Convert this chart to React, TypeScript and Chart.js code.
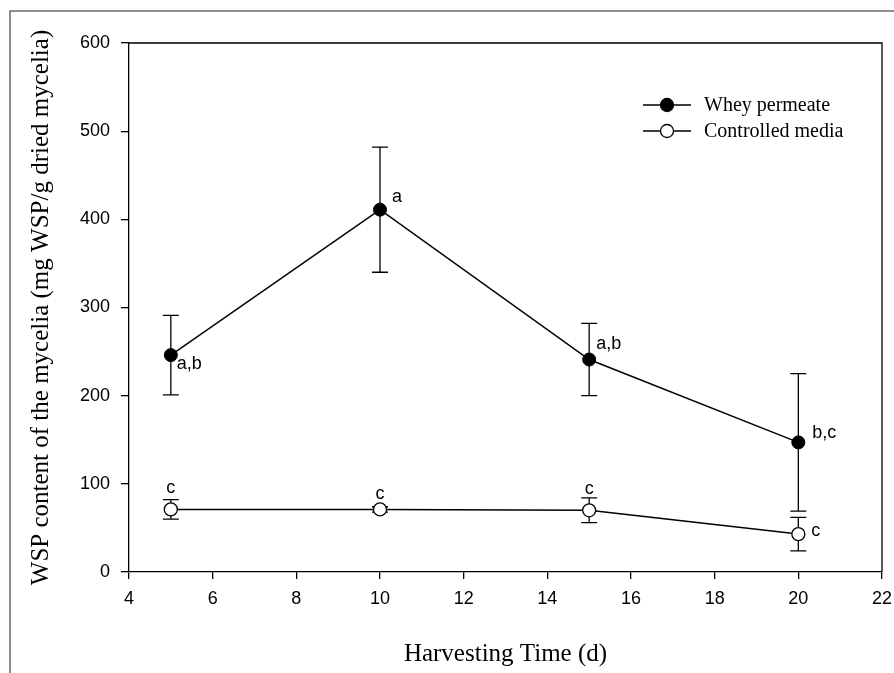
import React, { useEffect, useRef } from 'react';
import { Chart, registerables } from 'chart.js';

Chart.register(...registerables);

// ---- data ----
const days = [5, 10, 15, 20];
const wheyMean = [246, 411, 241, 147];
const wheyErr = [45, 71, 41, 78];
const controlMean = [71, 71, 70, 43];
const controlErr = [11, 3, 14, 19];
const wheyLetters = ['a,b', 'a', 'a,b', 'b,c'];
const controlLetters = ['c', 'c', 'c', 'c'];
const seriesNames = ['Whey permeate', 'Controlled media'];
const xTitle = 'Harvesting Time (d)';
const yTitle = 'WSP content of the mycelia (mg WSP/g dried mycelia)';
const xRange = { min: 4, max: 22, step: 2 };
const yRange = { min: 0, max: 600, step: 100 };

// ---- placement of the significance letters (pixel offsets from marker) ----
const wheyLetterPos: [number, number, CanvasTextAlign][] = [
  [6, 14, 'left'],
  [12, -8, 'left'],
  [7, -11, 'left'],
  [14, -4, 'left'],
];
const controlLetterPos: [number, number, CanvasTextAlign][] = [
  [0, -16, 'center'],
  [0, -10, 'center'],
  [0, -16, 'center'],
  [13, 2, 'left'],
];

const SANS = '"Liberation Sans", Arial, sans-serif';
const SERIF = '"Liberation Serif", "Times New Roman", serif';

const errs = [wheyErr, controlErr];
const letters = [wheyLetters, controlLetters];
const letterPos = [wheyLetterPos, controlLetterPos];

const decorPlugin = {
  id: 'decor',
  beforeDraw(chart: any) {
    const ctx = chart.ctx;
    ctx.save();
    ctx.strokeStyle = '#444';
    ctx.lineWidth = 1.2;
    ctx.strokeRect(10, 11, 900, 700);
    ctx.restore();
  },
  beforeDatasetsDraw(chart: any) {
    const ctx = chart.ctx;
    const ys = chart.scales.y;
    ctx.save();
    ctx.strokeStyle = '#000';
    ctx.lineWidth = 1.3;
    errs.forEach((e, di) => {
      const meta = chart.getDatasetMeta(di);
      meta.data.forEach((pt: any, i: number) => {
        const v = chart.data.datasets[di].data[i].y;
        const t = ys.getPixelForValue(v + e[i]);
        const b = ys.getPixelForValue(v - e[i]);
        ctx.beginPath();
        ctx.moveTo(pt.x, t);
        ctx.lineTo(pt.x, b);
        ctx.moveTo(pt.x - 8, t);
        ctx.lineTo(pt.x + 8, t);
        ctx.moveTo(pt.x - 8, b);
        ctx.lineTo(pt.x + 8, b);
        ctx.stroke();
      });
    });
    ctx.restore();
  },
  afterDraw(chart: any) {
    const ctx = chart.ctx;
    const a = chart.chartArea;
    ctx.save();
    // top and right frame of the plot box
    ctx.strokeStyle = '#000';
    ctx.lineWidth = 1.3;
    ctx.beginPath();
    ctx.moveTo(a.left, a.top);
    ctx.lineTo(a.right, a.top);
    ctx.lineTo(a.right, a.bottom);
    ctx.stroke();

    // letters
    ctx.fillStyle = '#000';
    ctx.font = `18px ${SANS}`;
    ctx.textBaseline = 'alphabetic';
    letters.forEach((ls, di) => {
      const meta = chart.getDatasetMeta(di);
      meta.data.forEach((pt: any, i: number) => {
        const [dx, dy, al] = letterPos[di][i];
        ctx.textAlign = al;
        ctx.fillText(ls[i], pt.x + dx, pt.y + dy);
      });
    });

    // legend
    const lx = 643;
    const rows = [105, 131];
    ctx.font = `20px ${SERIF}`;
    ctx.textAlign = 'left';
    ctx.textBaseline = 'middle';
    chart.data.datasets.forEach((ds: any, i: number) => {
      const y = rows[i];
      ctx.strokeStyle = '#000';
      ctx.lineWidth = 1.5;
      ctx.beginPath();
      ctx.moveTo(lx, y);
      ctx.lineTo(lx + 48, y);
      ctx.stroke();
      ctx.beginPath();
      ctx.arc(lx + 24, y, 6.5, 0, Math.PI * 2);
      ctx.fillStyle = ds.pointBackgroundColor;
      ctx.fill();
      ctx.lineWidth = 1.3;
      ctx.stroke();
      ctx.fillStyle = '#000';
      ctx.fillText(ds.label, 704, y + 1);
    });
    ctx.restore();
  },
};

export default function App() {
  const ref = useRef<HTMLCanvasElement>(null);
  useEffect(() => {
    if (!ref.current) return;
    const chart = new Chart(ref.current, {
      type: 'line',
      data: {
        datasets: [
          {
            label: seriesNames[0],
            data: days.map((d, i) => ({ x: d, y: wheyMean[i] })),
            borderColor: '#000',
            borderWidth: 1.5,
            pointRadius: 6.5,
            pointBackgroundColor: '#000',
            pointBorderColor: '#000',
            pointBorderWidth: 1,
            tension: 0,
          },
          {
            label: seriesNames[1],
            data: days.map((d, i) => ({ x: d, y: controlMean[i] })),
            borderColor: '#000',
            borderWidth: 1.5,
            pointRadius: 6.5,
            pointBackgroundColor: '#fff',
            pointBorderColor: '#000',
            pointBorderWidth: 1.3,
            tension: 0,
          },
        ],
      },
      options: {
        responsive: false,
        animation: false,
        layout: { padding: { left: 0, right: 12, top: 43, bottom: 0 } },
        plugins: { legend: { display: false }, tooltip: { enabled: false } },
        scales: {
          x: {
            type: 'linear',
            min: xRange.min,
            max: xRange.max,
            afterFit: (s: any) => { s.height = 101; s.paddingLeft = 0; s.paddingRight = 0; },
            ticks: { stepSize: xRange.step, color: '#000', font: { family: SANS, size: 18 }, padding: 9, maxRotation: 0 },
            grid: { drawOnChartArea: false, drawTicks: true, tickLength: 7, color: '#000', lineWidth: 1.3 },
            border: { display: true, color: '#000', width: 1.3 },
            title: { display: true, text: xTitle, color: '#000', font: { family: SERIF, size: 25 }, padding: { top: 0, bottom: 4 } },
          },
          y: {
            type: 'linear',
            min: yRange.min,
            max: yRange.max,
            afterFit: (s: any) => { s.width = 129; s.paddingTop = 0; s.paddingBottom = 0; },
            ticks: { stepSize: yRange.step, color: '#000', font: { family: SANS, size: 18 }, padding: 11 },
            grid: { drawOnChartArea: false, drawTicks: true, tickLength: 8, color: '#000', lineWidth: 1.3 },
            border: { display: true, color: '#000', width: 1.3 },
            title: { display: true, text: yTitle, color: '#000', font: { family: SERIF, size: 25 }, padding: { top: 26, bottom: 0 } },
          },
        },
      },
      plugins: [decorPlugin],
    });
    return () => chart.destroy();
  }, []);
  return (
    <div style={{ position: 'absolute', left: 0, top: 0, width: 894, height: 673, background: '#fff' }}>
      <canvas ref={ref} width={894} height={673} />
    </div>
  );
}
